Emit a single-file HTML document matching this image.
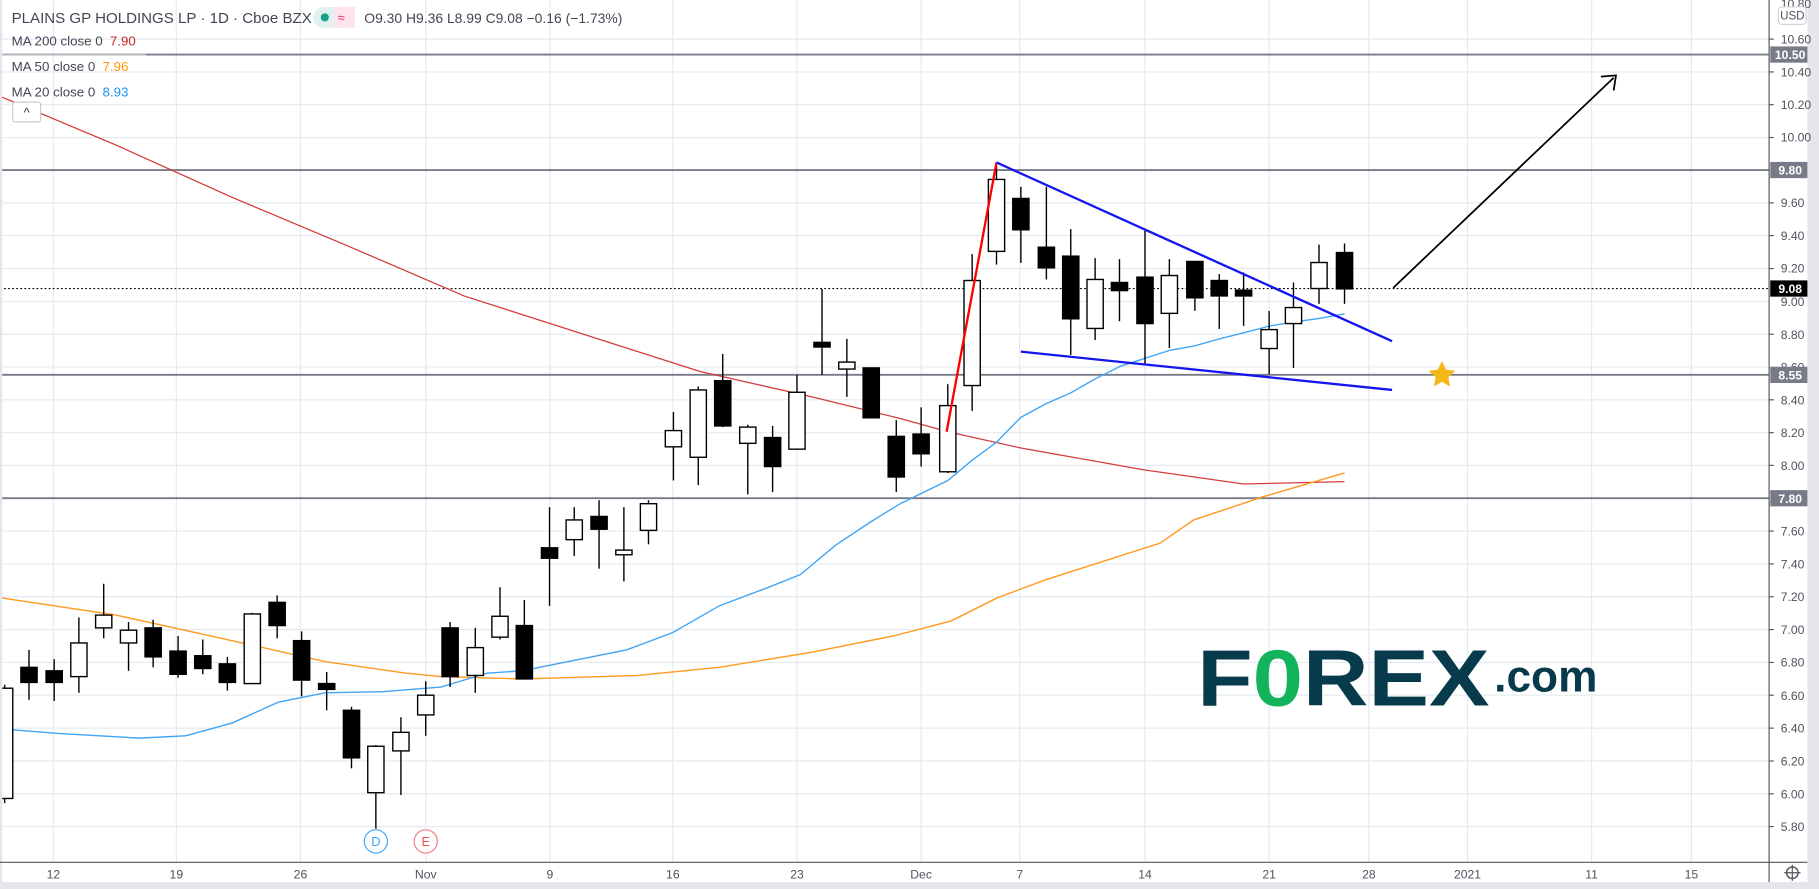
<!DOCTYPE html>
<html><head><meta charset="utf-8"><style>
html,body{margin:0;padding:0;background:#fff;overflow:hidden}
svg{display:block}
text{font-family:"Liberation Sans","DejaVu Sans",sans-serif}
</style></head><body>
<svg width="1819" height="889" viewBox="0 0 1568 766" preserveAspectRatio="none" xmlns="http://www.w3.org/2000/svg">
<rect width="1568" height="766" fill="#fff"/>
<!-- grid -->
<g stroke="#e3eaf1" stroke-width="1">
<line x1="0" x2="1525" y1="33.7" y2="33.7"/><line x1="0" x2="1525" y1="62" y2="62"/><line x1="0" x2="1525" y1="90.2" y2="90.2"/><line x1="0" x2="1525" y1="118.5" y2="118.5"/><line x1="0" x2="1525" y1="174.8" y2="174.8"/><line x1="0" x2="1525" y1="203" y2="203"/><line x1="0" x2="1525" y1="231.4" y2="231.4"/><line x1="0" x2="1525" y1="259.7" y2="259.7"/><line x1="0" x2="1525" y1="288" y2="288"/><line x1="0" x2="1525" y1="316.2" y2="316.2"/><line x1="0" x2="1525" y1="344.5" y2="344.5"/><line x1="0" x2="1525" y1="372.8" y2="372.8"/><line x1="0" x2="1525" y1="401" y2="401"/><line x1="0" x2="1525" y1="457.6" y2="457.6"/><line x1="0" x2="1525" y1="485.9" y2="485.9"/><line x1="0" x2="1525" y1="514.2" y2="514.2"/><line x1="0" x2="1525" y1="542.5" y2="542.5"/><line x1="0" x2="1525" y1="570.8" y2="570.8"/><line x1="0" x2="1525" y1="599" y2="599"/><line x1="0" x2="1525" y1="627.4" y2="627.4"/><line x1="0" x2="1525" y1="655.7" y2="655.7"/><line x1="0" x2="1525" y1="684" y2="684"/><line x1="0" x2="1525" y1="712.2" y2="712.2"/>
<line y1="0" y2="743" x1="46" x2="46"/><line y1="0" y2="743" x1="152" x2="152"/><line y1="0" y2="743" x1="259" x2="259"/><line y1="0" y2="743" x1="367" x2="367"/><line y1="0" y2="743" x1="474" x2="474"/><line y1="0" y2="743" x1="580" x2="580"/><line y1="0" y2="743" x1="687" x2="687"/><line y1="0" y2="743" x1="794" x2="794"/><line y1="0" y2="743" x1="879" x2="879"/><line y1="0" y2="743" x1="987" x2="987"/><line y1="0" y2="743" x1="1094" x2="1094"/><line y1="0" y2="743" x1="1180" x2="1180"/><line y1="0" y2="743" x1="1265" x2="1265"/><line y1="0" y2="743" x1="1372" x2="1372"/><line y1="0" y2="743" x1="1458" x2="1458"/>
</g>
<!-- horizontal levels -->
<g stroke="#787b86" stroke-width="1.6">
<line x1="0" x2="1525" y1="47" y2="47"/><line x1="0" x2="1525" y1="146.5" y2="146.5"/><line x1="0" x2="1525" y1="323" y2="323"/><line x1="0" x2="1525" y1="429.3" y2="429.3"/>
</g>
<line x1="0" x2="126" y1="47" y2="47" stroke="#b2b5be" stroke-width="1.6"/>
<line x1="0" x2="1525" y1="248.6" y2="248.6" stroke="#000" stroke-width="1" stroke-dasharray="1.5,2"/>
<!-- MAs -->
<polyline fill="none" stroke="#d43c3c" stroke-width="1.1" points="0,83 100,125 200,170 300,212 400,255 500,287 603,320 700,342 776,360.6 817,372 880,386 987,405 1072,417 1159,415"/>
<polyline fill="none" stroke="#ff9a1f" stroke-width="1.2" points="0,515 100,530 200,552 280,570 350,580 380,583 450,585 550,582 620,575 700,562 770,548 820,535 860,515 900,500 950,484 1000,468 1029,448 1089,428 1159,407.5"/>
<polyline fill="none" stroke="#42a5f5" stroke-width="1.2" points="0,628 50,632 120,636 160,634 200,623 240,605 280,597 330,596 380,592 420,580 450,578 500,568 540,560 580,545 620,522 660,507 690,495 720,470 750,450 776,434 817,414 838,396.5 859,381 880,359.6 902,347.7 923,338.5 944,326.5 966,315.5 987,308.7 1009,301.7 1030,298 1051,292 1072,286.8 1094,281 1115,277.5 1137,274.4 1159,270.4"/>
<!-- candles -->
<g stroke="#000" stroke-width="1.2">
<line x1="4" x2="4" y1="590" y2="692"/><rect x="-3" y="593" width="14" height="95" fill="#fff"/>
<line x1="25" x2="25" y1="560" y2="603"/><rect x="18" y="575" width="14" height="13" fill="#000"/>
<line x1="46.7" x2="46.7" y1="568" y2="604"/><rect x="39.7" y="578" width="14" height="10" fill="#000"/>
<line x1="68" x2="68" y1="532" y2="597"/><rect x="61" y="554" width="14" height="29" fill="#fff"/>
<line x1="89.4" x2="89.4" y1="503" y2="550"/><rect x="82.4" y="530" width="14" height="11" fill="#fff"/>
<line x1="110.8" x2="110.8" y1="536" y2="578"/><rect x="103.8" y="543" width="14" height="11" fill="#fff"/>
<line x1="132" x2="132" y1="534" y2="575"/><rect x="125" y="541" width="14" height="25" fill="#000"/>
<line x1="153.5" x2="153.5" y1="548" y2="584"/><rect x="146.5" y="561" width="14" height="20" fill="#000"/>
<line x1="174.8" x2="174.8" y1="551" y2="581"/><rect x="167.8" y="565" width="14" height="11" fill="#000"/>
<line x1="196" x2="196" y1="566" y2="595"/><rect x="189" y="572" width="14" height="16" fill="#000"/>
<line x1="217.5" x2="217.5" y1="528" y2="589"/><rect x="210.5" y="529" width="14" height="60" fill="#fff"/>
<line x1="238.9" x2="238.9" y1="513" y2="550"/><rect x="231.9" y="519" width="14" height="20" fill="#000"/>
<line x1="260" x2="260" y1="544" y2="600"/><rect x="253" y="552" width="14" height="34" fill="#000"/>
<line x1="281.6" x2="281.6" y1="579" y2="612"/><rect x="274.6" y="589" width="14" height="5" fill="#000"/>
<line x1="303" x2="303" y1="609" y2="662"/><rect x="296" y="612" width="14" height="41" fill="#000"/>
<line x1="324" x2="324" y1="642" y2="714"/><rect x="317" y="643" width="14" height="40" fill="#fff"/>
<line x1="345.6" x2="345.6" y1="618" y2="685"/><rect x="338.6" y="631" width="14" height="16" fill="#fff"/>
<line x1="367" x2="367" y1="587" y2="634"/><rect x="360" y="599" width="14" height="17" fill="#fff"/>
<line x1="388" x2="388" y1="536" y2="592"/><rect x="381" y="541" width="14" height="42" fill="#000"/>
<line x1="409.7" x2="409.7" y1="541" y2="597"/><rect x="402.7" y="558" width="14" height="24" fill="#fff"/>
<line x1="431" x2="431" y1="506" y2="551"/><rect x="424" y="531" width="14" height="18" fill="#fff"/>
<line x1="452" x2="452" y1="517" y2="585"/><rect x="445" y="539" width="14" height="46" fill="#000"/>
<line x1="473.7" x2="473.7" y1="437" y2="522"/><rect x="466.7" y="472" width="14" height="9" fill="#000"/>
<line x1="495" x2="495" y1="437" y2="479"/><rect x="488" y="448" width="14" height="17" fill="#fff"/>
<line x1="516.4" x2="516.4" y1="431" y2="490"/><rect x="509.4" y="445" width="14" height="11" fill="#000"/>
<line x1="537.8" x2="537.8" y1="437" y2="501"/><rect x="530.8" y="474" width="14" height="4" fill="#fff"/>
<line x1="559" x2="559" y1="431" y2="469"/><rect x="552" y="434" width="14" height="23" fill="#fff"/>
<line x1="580.5" x2="580.5" y1="355" y2="414"/><rect x="573.5" y="371" width="14" height="14" fill="#fff"/>
<line x1="601.9" x2="601.9" y1="333" y2="418"/><rect x="594.9" y="336" width="14" height="58" fill="#fff"/>
<line x1="623" x2="623" y1="305" y2="368"/><rect x="616" y="328" width="14" height="39" fill="#000"/>
<line x1="644.6" x2="644.6" y1="366" y2="426"/><rect x="637.6" y="368" width="14" height="14" fill="#fff"/>
<line x1="666" x2="666" y1="367" y2="424"/><rect x="659" y="377" width="14" height="25" fill="#000"/>
<line x1="687" x2="687" y1="323" y2="387"/><rect x="680" y="338" width="14" height="49" fill="#fff"/>
<line x1="708.6" x2="708.6" y1="249" y2="323"/><rect x="701.6" y="295" width="14" height="4" fill="#000"/>
<line x1="730" x2="730" y1="292" y2="342"/><rect x="723" y="312" width="14" height="6" fill="#fff"/>
<line x1="751" x2="751" y1="317" y2="360"/><rect x="744" y="317" width="14" height="43" fill="#000"/>
<line x1="772.6" x2="772.6" y1="362" y2="424"/><rect x="765.6" y="376" width="14" height="35" fill="#000"/>
<line x1="794" x2="794" y1="351" y2="402"/><rect x="787" y="374" width="14" height="17" fill="#000"/>
<line x1="817" x2="817" y1="331" y2="407.5"/><rect x="810" y="349.5" width="14" height="57" fill="#fff"/>
<line x1="838" x2="838" y1="219" y2="354"/><rect x="831" y="241.7" width="14" height="90.5" fill="#fff"/>
<line x1="859" x2="859" y1="143" y2="228"/><rect x="852" y="154.6" width="14" height="62" fill="#fff"/>
<line x1="880" x2="880" y1="161" y2="226.5"/><rect x="873" y="171" width="14" height="27" fill="#000"/>
<line x1="902" x2="902" y1="161" y2="240.8"/><rect x="895" y="213" width="14" height="17.8" fill="#000"/>
<line x1="923" x2="923" y1="197.4" y2="305.8"/><rect x="916" y="220.7" width="14" height="54" fill="#000"/>
<line x1="944" x2="944" y1="222.4" y2="293"/><rect x="937" y="240.8" width="14" height="42.2" fill="#fff"/>
<line x1="965" x2="965" y1="223.3" y2="276.8"/><rect x="958" y="243.4" width="14" height="7" fill="#000"/>
<line x1="987" x2="987" y1="197" y2="313.8"/><rect x="980" y="238.8" width="14" height="40" fill="#000"/>
<line x1="1008" x2="1008" y1="223.3" y2="299.8"/><rect x="1001" y="237.4" width="14" height="32.6" fill="#fff"/>
<line x1="1030" x2="1030" y1="225.3" y2="267.8"/><rect x="1023" y="225.3" width="14" height="31.3" fill="#000"/>
<line x1="1051" x2="1051" y1="236.2" y2="283.4"/><rect x="1044" y="241.7" width="14" height="13.3" fill="#000"/>
<line x1="1072" x2="1072" y1="234.8" y2="280.8"/><rect x="1065" y="250" width="14" height="5" fill="#000"/>
<line x1="1094" x2="1094" y1="268" y2="322.5"/><rect x="1087" y="284" width="14" height="16.3" fill="#fff"/>
<line x1="1115" x2="1115" y1="243.4" y2="317"/><rect x="1108" y="265" width="14" height="13.8" fill="#fff"/>
<line x1="1137" x2="1137" y1="210.7" y2="261.8"/><rect x="1130" y="226.2" width="14" height="22.4" fill="#fff"/>
<line x1="1159" x2="1159" y1="209.8" y2="261.8"/><rect x="1152" y="217.6" width="14" height="31.3" fill="#000"/>
</g>
<!-- drawings -->
<line x1="816" y1="372" x2="859" y2="140" stroke="#f00" stroke-width="2"/>
<line x1="859" y1="140" x2="1200" y2="294" stroke="#1515f0" stroke-width="2"/>
<line x1="880" y1="303" x2="1200" y2="336" stroke="#1515f0" stroke-width="2"/>
<line x1="1201" y1="248" x2="1391" y2="67" stroke="#000" stroke-width="1.5"/>
<polyline points="1380,66 1393,65 1391,78" fill="none" stroke="#000" stroke-width="1.5"/>
<polygon points="1243,311 1246.5,318.5 1254.5,319.5 1248.5,325 1250,333 1243,329 1236,333 1237.5,325 1231.5,319.5 1239.5,318.5" fill="#f5b617"/>
<!-- logo -->
<text x="1032" y="608" font-size="69" font-weight="bold" fill="#073b4c" textLength="252" lengthAdjust="spacingAndGlyphs">F<tspan fill="#12b35b">0</tspan>REX</text>
<text x="1288" y="596" font-size="38" font-weight="bold" fill="#073b4c" textLength="89" lengthAdjust="spacingAndGlyphs">.com</text>
<!-- D / E markers -->
<circle cx="324" cy="725" r="10" fill="#fff" stroke="#42a5f5"/><text x="324" y="729" font-size="11" fill="#42a5f5" text-anchor="middle">D</text>
<circle cx="367" cy="725" r="10" fill="#fff" stroke="#ef7b84"/><text x="367" y="729" font-size="11" fill="#ef5350" text-anchor="middle">E</text>
<!-- header -->
<text x="10" y="20" font-size="13" fill="#434651">PLAINS GP HOLDINGS LP · 1D · Cboe BZX</text>
<rect x="270" y="6" width="36" height="18" rx="9" fill="#e0f2ef"/><rect x="288" y="6" width="18" height="18" fill="#fde4ea"/>
<circle cx="280" cy="15" r="3.5" fill="#16a085"/><text x="291" y="19" font-size="11" fill="#e91e63">≈</text>
<text x="314" y="20" font-size="12" fill="#434651">O9.30 H9.36 L8.99 C9.08 −0.16 (−1.73%)</text>
<text x="10" y="39" font-size="11.5" fill="#434651">MA 200 close 0 <tspan fill="#c62828" dx="3">7.90</tspan></text>
<text x="10" y="61" font-size="11.5" fill="#434651">MA 50 close 0 <tspan fill="#ff9800" dx="3">7.96</tspan></text>
<text x="10" y="83" font-size="11.5" fill="#434651">MA 20 close 0 <tspan fill="#2196f3" dx="3">8.93</tspan></text>
<rect x="11" y="88" width="24" height="17" rx="2" fill="#fff" stroke="#ccc"/><text x="23" y="101" font-size="11" fill="#333" text-anchor="middle">^</text>
<!-- right axis -->
<rect x="1526" y="0" width="42" height="766" fill="#fff"/>
<rect x="1558" y="0" width="10" height="766" fill="#e4e6ec"/>
<rect x="0" y="0" width="2" height="766" fill="#e4e6ec"/>
<line x1="1525" x2="1525" y1="0" y2="766" stroke="#50535e" stroke-width="1"/>
<line x1="0" x2="1558" y1="743" y2="743" stroke="#50535e" stroke-width="1"/>
<rect x="0" y="760" width="1568" height="6" fill="#e4e6ec"/>
<g font-size="10.5" fill="#50535e">
<text x="1535" y="7">10.80</text>
<text x="1535" y="37.5">10.60</text><text x="1535" y="66">10.40</text><text x="1535" y="94">10.20</text><text x="1535" y="122">10.00</text><text x="1535" y="178.5">9.60</text><text x="1535" y="207">9.40</text><text x="1535" y="235">9.20</text><text x="1535" y="263.5">9.00</text><text x="1535" y="292">8.80</text><text x="1535" y="320">8.60</text><text x="1535" y="348.5">8.40</text><text x="1535" y="376.5">8.20</text><text x="1535" y="405">8.00</text><text x="1535" y="461.5">7.60</text><text x="1535" y="490">7.40</text><text x="1535" y="518">7.20</text><text x="1535" y="546.5">7.00</text><text x="1535" y="574.5">6.80</text><text x="1535" y="603">6.60</text><text x="1535" y="631">6.40</text><text x="1535" y="659.5">6.20</text><text x="1535" y="688">6.00</text><text x="1535" y="716">5.80</text>
</g>
<g stroke="#50535e"><line x1="1525" x2="1529" y1="33.7" y2="33.7"/><line x1="1525" x2="1529" y1="62" y2="62"/><line x1="1525" x2="1529" y1="90.2" y2="90.2"/><line x1="1525" x2="1529" y1="118.5" y2="118.5"/><line x1="1525" x2="1529" y1="174.8" y2="174.8"/><line x1="1525" x2="1529" y1="203" y2="203"/><line x1="1525" x2="1529" y1="231.4" y2="231.4"/><line x1="1525" x2="1529" y1="288" y2="288"/><line x1="1525" x2="1529" y1="344.5" y2="344.5"/><line x1="1525" x2="1529" y1="372.8" y2="372.8"/><line x1="1525" x2="1529" y1="401" y2="401"/><line x1="1525" x2="1529" y1="457.6" y2="457.6"/><line x1="1525" x2="1529" y1="485.9" y2="485.9"/><line x1="1525" x2="1529" y1="514.2" y2="514.2"/><line x1="1525" x2="1529" y1="542.5" y2="542.5"/><line x1="1525" x2="1529" y1="570.8" y2="570.8"/><line x1="1525" x2="1529" y1="599" y2="599"/><line x1="1525" x2="1529" y1="627.4" y2="627.4"/><line x1="1525" x2="1529" y1="655.7" y2="655.7"/><line x1="1525" x2="1529" y1="684" y2="684"/><line x1="1525" x2="1529" y1="712.2" y2="712.2"/></g>
<rect x="1533" y="6" width="24" height="15" rx="3" fill="#fff" stroke="#d1d4dc"/><text x="1545" y="17" font-size="10" fill="#50535e" text-anchor="middle">USD</text>
<g font-size="10.5" font-weight="bold" fill="#fff">
<rect x="1526" y="40" width="32" height="14" fill="#787b86"/><text x="1530" y="51">10.50</text>
<rect x="1526" y="139.5" width="32" height="14" fill="#787b86"/><text x="1533" y="150.5">9.80</text>
<rect x="1526" y="241.6" width="32" height="14" fill="#000"/><text x="1533" y="252.6">9.08</text>
<rect x="1526" y="316" width="32" height="14" fill="#787b86"/><text x="1533" y="327">8.55</text>
<rect x="1526" y="422.3" width="32" height="14" fill="#787b86"/><text x="1533" y="433.3">7.80</text>
</g>
<!-- bottom axis labels -->
<g font-size="10.5" fill="#50535e" text-anchor="middle">
<text x="46" y="757">12</text><text x="152" y="757">19</text><text x="259" y="757">26</text><text x="367" y="757">Nov</text><text x="474" y="757">9</text><text x="580" y="757">16</text><text x="687" y="757">23</text><text x="794" y="757">Dec</text><text x="879" y="757">7</text><text x="987" y="757">14</text><text x="1094" y="757">21</text><text x="1180" y="757">28</text><text x="1265" y="757">2021</text><text x="1372" y="757">11</text><text x="1458" y="757">15</text>
</g>
<circle cx="1545" cy="752" r="5" fill="none" stroke="#50535e" stroke-width="1.2"/>
<line x1="1545" x2="1545" y1="745" y2="759" stroke="#50535e"/><line x1="1538" x2="1552" y1="752" y2="752" stroke="#50535e"/>
</svg>
</body></html>
